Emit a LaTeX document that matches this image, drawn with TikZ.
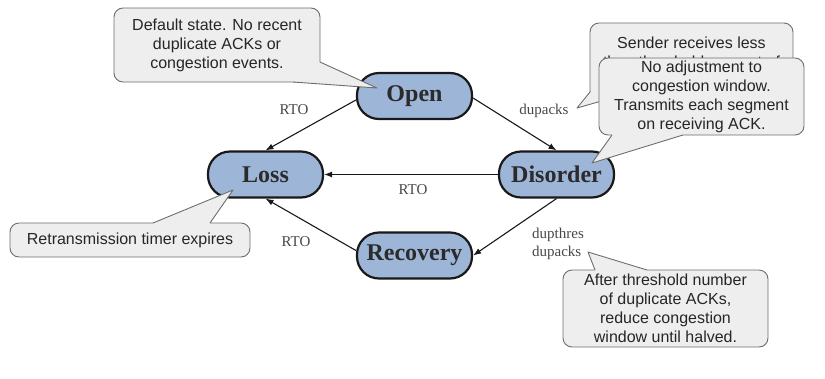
\documentclass[tikz,border=0pt]{standalone}
\usepackage{fontspec}
\setmainfont{Liberation Serif}
\setsansfont{Liberation Sans}
\usetikzlibrary{arrows.meta}
\definecolor{statefill}{HTML}{9DB5D7}
\definecolor{callfill}{HTML}{EEEEEE}
\definecolor{callline}{HTML}{6E6E6E}
\definecolor{labeltext}{HTML}{474747}
\definecolor{statetext}{HTML}{2B2B2B}
\begin{document}
\begin{tikzpicture}[x=1pt,y=-1pt,
  state/.style={draw=black!90, line width=2.2pt, fill=statefill, rounded corners=22pt,
    minimum width=115pt, minimum height=46pt, inner sep=0pt,
    font=\fontsize{24}{26}\selectfont\bfseries, text=statetext},
  cbox/.style={draw=callline, line width=0.9pt, fill=callfill, rounded corners=9pt,
    inner sep=0pt, align=center, font=\sffamily\fontsize{16}{19}\selectfont, text=black!85},
  cfill/.style={fill=callfill},
  cedge/.style={draw=callline, line width=0.9pt, line join=round},
  arr/.style={-{Latex[length=8pt,width=6pt]}, line width=1.1pt, draw=black!90},
  tlabel/.style={font=\fontsize{15}{18}\selectfont, text=labeltext, inner sep=0pt},
]
\useasboundingbox (0,0) rectangle (825,378);

% states
\node[state] (open) at (414.5,96) {Open};
\node[state] (loss) at (265.5,174.5) {Loss};
\node[state] (disorder) at (556.5,174.5) {Disorder};
\node[state] (recovery) at (414.5,255.5) {Recovery};

% transitions
\draw[arr] ([yshift=-4pt]open.west) -- (loss.north);
\draw[arr] ([yshift=-2pt]open.east) -- (disorder.north);
\draw[arr] (disorder.west) -- (loss.east);
\draw[arr] (disorder.south) -- (recovery.east);
\draw[arr] ([yshift=5pt]recovery.west) -- (loss.south);

% transition labels
\node[tlabel] (l1) at (294,110) {RTO};
\node[tlabel] (l2) at (413,190) {RTO};
\node[tlabel] (l3) at (296,242) {RTO};
\node[tlabel] (l4) at (544,111) {dupacks};
\node[tlabel, align=left] (l5) at (558,244) {dupthres\\dupacks};

% callout: default state
\node[cbox, minimum width=206pt, minimum height=74pt] (c1) at (217,45)
  {Default state. No recent\\duplicate ACKs or\\congestion events.};
\coordinate (t1) at (377,88);
\fill[cfill] (293,82) -- (t1) -- (320,62) -- (305,70) -- cycle;
\draw[cedge] (293,82) -- (t1) -- (320,62);

% callout: retransmission timer
\node[cbox, minimum width=240pt, minimum height=34pt] (c4) at (130,240)
  {Retransmission timer expires};
\coordinate (t4) at (233,190);
\fill[cfill] (153,223) -- (t4) -- (210,223) -- (210,226) -- (153,226) -- cycle;
\draw[cedge] (153,223) -- (t4) -- (210,223);

% callout: threshold
\node[cbox, minimum width=205pt, minimum height=77pt] (c5) at (665.5,308.5)
  {After threshold number\\of duplicate ACKs,\\reduce congestion\\window until halved.};
\coordinate (t5) at (588,252);
\fill[cfill] (595,270) -- (t5) -- (647,270) -- (647,273) -- (595,273) -- cycle;
\draw[cedge] (595,270) -- (t5) -- (647,270);

% callout: sender receives less (partly hidden)
\node[cbox, minimum width=203pt, minimum height=77pt] (c2) at (691.5,61.5)
  {Sender receives less\\than threshold amount of\\\mbox{}};
\coordinate (t2) at (577,108);
\fill[cfill] (590,92) -- (t2) -- (605,100) -- (598,94) -- cycle;
\draw[cedge] (590,92) -- (t2) -- (605,100);

% callout: no adjustment
\node[cbox, minimum width=205pt, minimum height=77pt] (c3) at (701.5,96.5)
  {No adjustment to\\congestion window.\\Transmits each segment\\on receiving ACK.};
\coordinate (t3) at (592,163);
\fill[cfill] (612,135) -- (t3) -- (683,135) -- (683,132) -- (612,132) -- cycle;
\draw[cedge] (612,135) -- (t3) -- (683,135);

\end{tikzpicture}
\end{document}
